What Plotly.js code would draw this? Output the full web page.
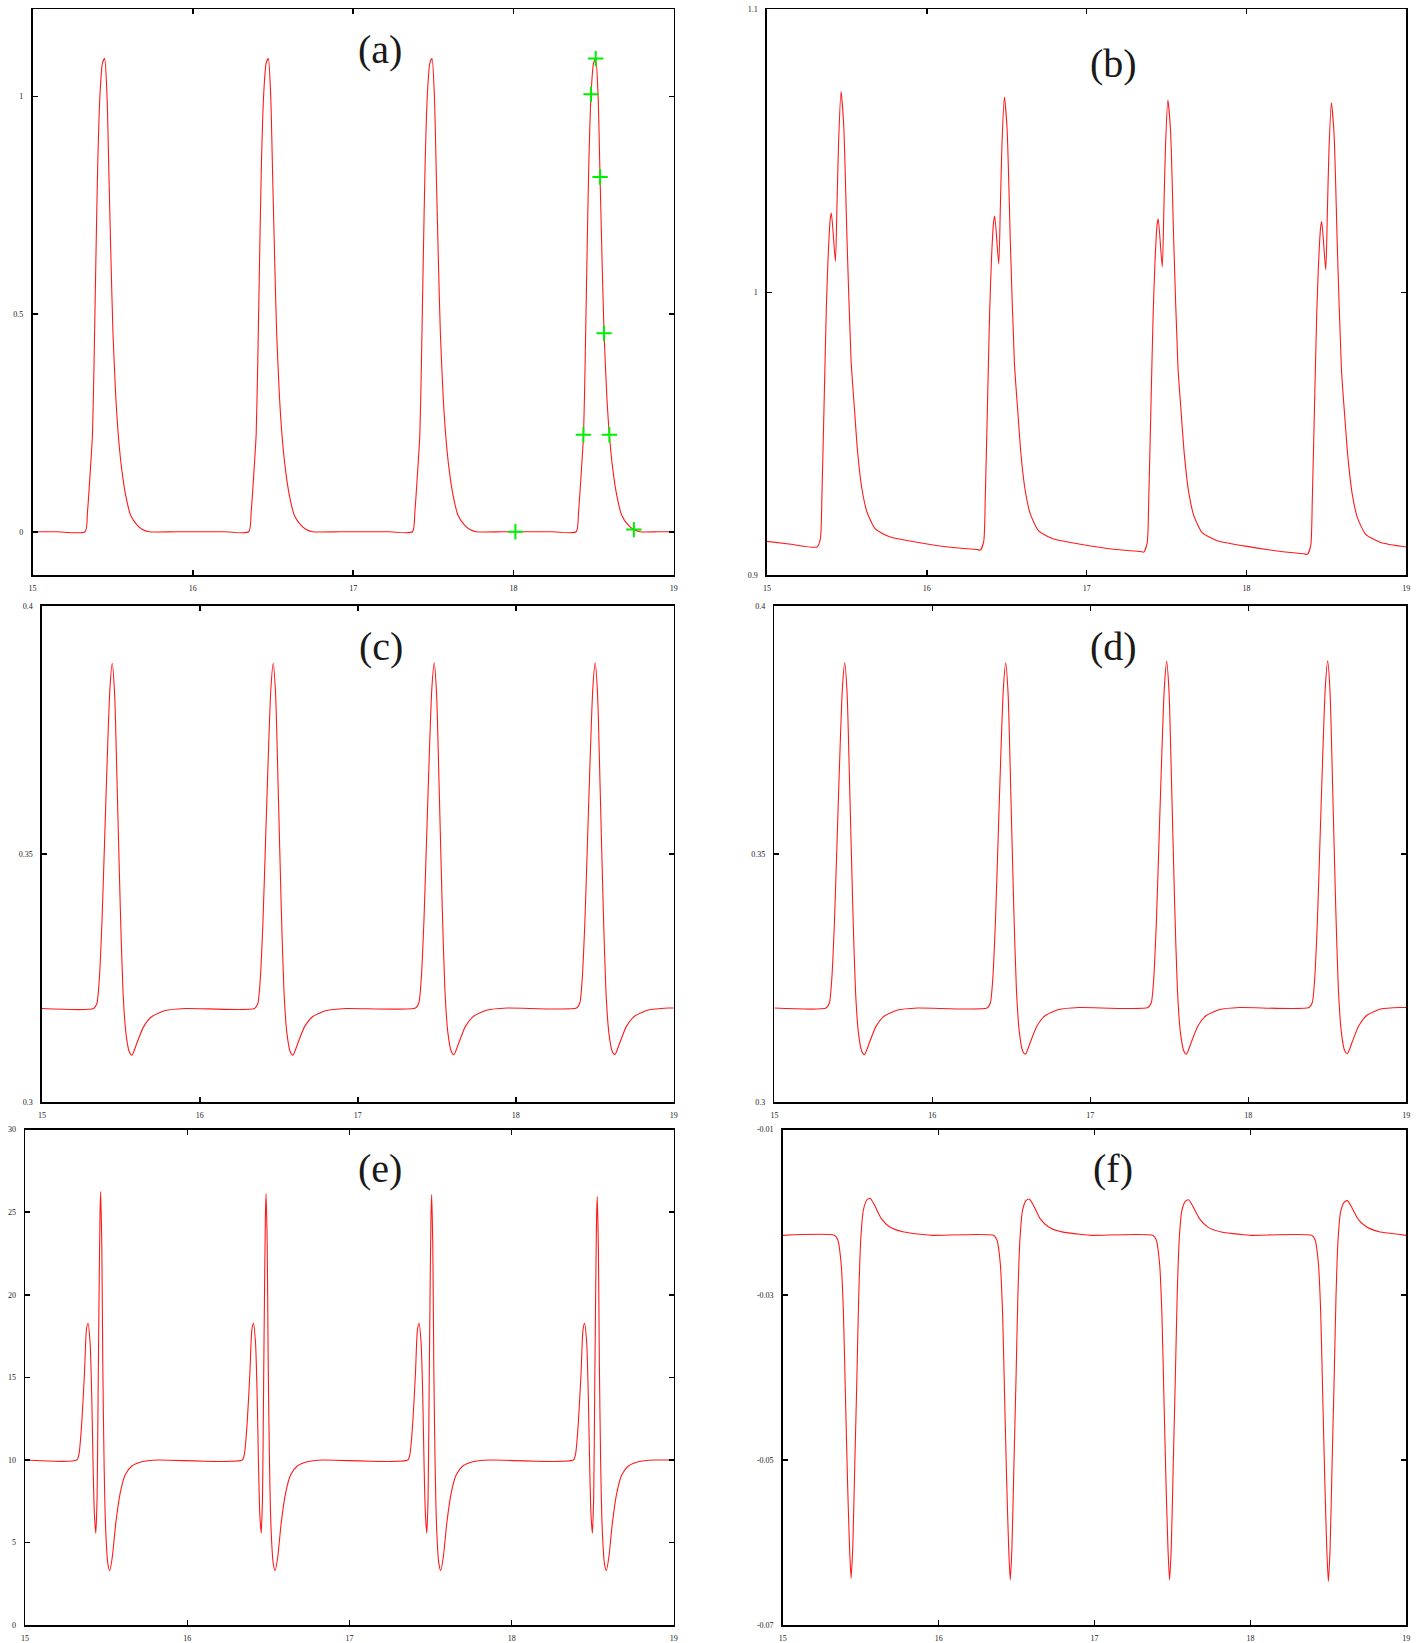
<!DOCTYPE html>
<html><head><meta charset="utf-8">
<script src="https://cdn.plot.ly/plotly-3.0.1.min.js"></script>
<style>html,body{margin:0;padding:0;background:#fff}#chart{width:1424px;height:1643px}</style>
</head><body><div id="chart"></div>
<script>
// ---------- tick labels ----------
const xTickVals = [15, 16, 17, 18, 19];
const xTickText = ['15', '16', '17', '18', '19'];
const yTickValsA = [0, 0.5, 1];          const yTickTextA = ['0', '0.5', '1'];
const yTickValsB = [0.9, 1, 1.1];        const yTickTextB = ['0.9', '1', '1.1'];
const yTickValsC = [0.3, 0.35, 0.4];     const yTickTextC = ['0.3', '0.35', '0.4'];
const yTickValsE = [0, 5, 10, 15, 20, 25, 30]; const yTickTextE = ['0', '5', '10', '15', '20', '25', '30'];
const yTickValsF = [-0.07, -0.05, -0.03, -0.01]; const yTickTextF = ['-0.07', '-0.05', '-0.03', '-0.01'];
const panelLabels = ['(a)', '(b)', '(c)', '(d)', '(e)', '(f)'];

// ---------- panel (a) ----------
const xA = [15, 15.15,
 15.328,15.343,15.364,15.374,15.384,15.395,15.407,15.421,15.436,15.450,15.465,15.477,15.490,15.502,15.519,15.535,15.556,15.581,15.612,15.653,15.686,15.726,15.90,16.20,
 16.349,16.364,16.385,16.395,16.405,16.416,16.428,16.442,16.457,16.471,16.486,16.498,16.511,16.523,16.540,16.556,16.577,16.602,16.633,16.674,16.707,16.747,16.92,17.22,
 17.370,17.385,17.406,17.416,17.426,17.437,17.449,17.463,17.478,17.492,17.507,17.519,17.532,17.544,17.561,17.577,17.598,17.623,17.654,17.695,17.728,17.768,17.94,18.24,
 18.391,18.406,18.427,18.437,18.447,18.458,18.470,18.484,18.499,18.513,18.528,18.540,18.553,18.565,18.582,18.598,18.619,18.644,18.675,18.716,18.749,18.789,18.90,
 19];
const yA = [0, 0,
 0,0.046,0.160,0.223,0.389,0.618,0.847,1.005,1.076,1.087,0.999,0.815,0.618,0.456,0.313,0.223,0.145,0.084,0.038,0.015,0.005,0,0,0,
 0,0.046,0.160,0.223,0.389,0.618,0.847,1.005,1.076,1.087,0.999,0.815,0.618,0.456,0.313,0.223,0.145,0.084,0.038,0.015,0.005,0,0,0,
 0,0.046,0.160,0.223,0.389,0.618,0.847,1.005,1.076,1.087,0.999,0.815,0.618,0.456,0.313,0.223,0.145,0.084,0.038,0.015,0.005,0,0,0,
 0,0.046,0.160,0.223,0.389,0.618,0.847,1.005,1.076,1.087,0.999,0.815,0.618,0.456,0.313,0.223,0.145,0.084,0.038,0.015,0.005,0,0,
 0];
const markX = [18.012, 18.436, 18.484, 18.513, 18.540, 18.565, 18.598, 18.751];
const markY = [0, 0.223, 1.005, 1.087, 0.815, 0.456, 0.223, 0.005];

// ---------- panel (b) ----------
const xB = [15.000,15.150,15.313,15.334,15.344,15.359,15.371,15.382,15.396,15.403,15.428,15.438,15.448,15.463,15.480,15.501,15.526,15.547,15.567,15.594,15.626,15.678,15.772,15.939,16.147,16.314,
 16.335,16.356,16.366,16.381,16.393,16.404,16.418,16.425,16.450,16.460,16.470,16.485,16.502,16.523,16.548,16.569,16.589,16.616,16.648,16.700,16.794,16.961,17.169,17.336,
 17.358,17.379,17.389,17.404,17.416,17.427,17.441,17.448,17.473,17.483,17.493,17.508,17.525,17.546,17.571,17.592,17.612,17.639,17.671,17.723,17.817,17.984,18.192,18.359,
 18.381,18.402,18.412,18.427,18.439,18.450,18.464,18.471,18.496,18.506,18.516,18.531,18.548,18.569,18.594,18.615,18.635,18.662,18.694,18.746,18.840,19.000];
const yB = [0.912,0.911,0.910,0.913,0.929,0.965,0.994,1.012,1.026,1.028,1.011,1.031,1.053,1.071,1.059,1.018,0.976,0.959,0.9435,0.9305,0.9223,0.9164,0.9135,0.9117,0.9099,0.9091,
 0.9089,0.912,0.928,0.964,0.993,1.011,1.025,1.027,1.010,1.030,1.052,1.069,1.058,1.017,0.975,0.958,0.9428,0.9298,0.9216,0.9157,0.9128,0.9110,0.9092,0.9084,
 0.9082,0.9115,0.928,0.964,0.992,1.010,1.024,1.026,1.009,1.029,1.051,1.068,1.057,1.016,0.974,0.957,0.9422,0.9292,0.9210,0.9151,0.9122,0.9104,0.9086,0.9076,
 0.9074,0.9105,0.927,0.963,0.991,1.009,1.023,1.025,1.008,1.028,1.050,1.067,1.056,1.015,0.973,0.956,0.9416,0.9286,0.9204,0.9145,0.9116,0.9100];

// ---------- panel (c) ----------
const xC = [15.000,15.327,15.348,15.363,15.380,15.397,15.414,15.430,15.445,15.460,15.477,15.496,15.513,15.532,15.553,15.570,15.601,15.643,15.696,15.781,15.907,
 16.346,16.367,16.382,16.399,16.416,16.433,16.449,16.464,16.479,16.496,16.515,16.532,16.551,16.572,16.589,16.620,16.662,16.715,16.800,16.926,
 17.365,17.386,17.401,17.418,17.435,17.452,17.468,17.483,17.498,17.515,17.534,17.551,17.570,17.591,17.608,17.639,17.681,17.734,17.819,17.945,
 18.384,18.405,18.420,18.437,18.454,18.471,18.487,18.502,18.517,18.534,18.553,18.570,18.589,18.610,18.627,18.658,18.700,18.753,18.838,18.964,19.000];
const yC = [0.3189,0.3189,0.3199,0.3246,0.3361,0.3528,0.3696,0.3830,0.3884,0.3824,0.3629,0.3394,0.3226,0.3139,0.3102,0.3095,0.3119,0.3152,0.3173,0.3185,0.3189,
 0.3189,0.3199,0.3246,0.3361,0.3528,0.3696,0.3830,0.3884,0.3824,0.3629,0.3394,0.3226,0.3139,0.3102,0.3095,0.3119,0.3152,0.3173,0.3185,0.3189,
 0.3190,0.3200,0.3247,0.3362,0.3529,0.3697,0.3831,0.3885,0.3825,0.3630,0.3395,0.3227,0.3140,0.3103,0.3096,0.3120,0.3153,0.3174,0.3186,0.3190,
 0.3190,0.3200,0.3247,0.3362,0.3529,0.3697,0.3831,0.3885,0.3825,0.3630,0.3395,0.3227,0.3140,0.3103,0.3096,0.3120,0.3153,0.3174,0.3186,0.3190,0.3190];

// ---------- panel (d) ----------
const xD = [15.000,15.327,15.348,15.363,15.380,15.397,15.414,15.430,15.445,15.460,15.477,15.496,15.513,15.532,15.553,15.570,15.601,15.643,15.696,15.781,15.907,
 16.346,16.367,16.382,16.399,16.416,16.433,16.449,16.464,16.479,16.496,16.515,16.532,16.551,16.572,16.589,16.620,16.662,16.715,16.800,16.926,
 17.365,17.386,17.401,17.418,17.435,17.452,17.468,17.483,17.498,17.515,17.534,17.551,17.570,17.591,17.608,17.639,17.681,17.734,17.819,17.945,
 18.384,18.405,18.420,18.437,18.454,18.471,18.487,18.502,18.517,18.534,18.553,18.570,18.589,18.610,18.627,18.658,18.700,18.753,18.838,18.964,19.000];
const yD = [0.3190,0.3190,0.3200,0.3247,0.3362,0.3529,0.3697,0.3831,0.3885,0.3825,0.3630,0.3395,0.3227,0.3140,0.3103,0.3096,0.3120,0.3153,0.3174,0.3186,0.3190,
 0.3190,0.3200,0.3247,0.3362,0.3529,0.3697,0.3831,0.3885,0.3825,0.3630,0.3395,0.3227,0.3140,0.3103,0.3097,0.3121,0.3154,0.3175,0.3187,0.3191,
 0.3191,0.3201,0.3248,0.3363,0.3530,0.3698,0.3833,0.3888,0.3827,0.3631,0.3396,0.3228,0.3141,0.3104,0.3097,0.3121,0.3154,0.3175,0.3187,0.3191,
 0.3191,0.3201,0.3248,0.3363,0.3530,0.3698,0.3834,0.3889,0.3828,0.3632,0.3396,0.3228,0.3141,0.3104,0.3098,0.3122,0.3155,0.3176,0.3188,0.3191,0.3191];

// ---------- panel (e) ----------
const xE = [15.000,15.319,15.333,15.349,15.366,15.378,15.388,15.401,15.411,15.419,15.427,15.436,15.444,15.450,15.456,15.462,15.466,15.473,15.479,15.487,15.497,15.510,15.522,15.538,15.559,15.586,15.617,15.658,15.719,15.822,
 16.339,16.353,16.369,16.386,16.398,16.408,16.421,16.431,16.439,16.447,16.456,16.464,16.470,16.476,16.482,16.486,16.493,16.499,16.507,16.517,16.530,16.542,16.558,16.579,16.606,16.637,16.678,16.739,16.842,
 17.360,17.374,17.390,17.407,17.419,17.429,17.442,17.452,17.460,17.468,17.477,17.485,17.491,17.497,17.503,17.507,17.514,17.520,17.528,17.538,17.551,17.563,17.579,17.600,17.627,17.658,17.699,17.760,17.863,
 18.381,18.395,18.411,18.428,18.440,18.450,18.463,18.473,18.481,18.489,18.498,18.506,18.512,18.518,18.524,18.528,18.535,18.541,18.549,18.559,18.572,18.584,18.600,18.621,18.648,18.679,18.720,18.781,18.884,19.000];
const yE = [10.0,10.0,10.41,12.2,15.25,17.87,18.28,17.07,13.84,9.81,6.78,5.57,7.78,13.84,19.89,24.94,26.25,22.92,15.86,9.81,5.77,3.75,3.31,4.15,6.17,7.99,9.1,9.64,9.9,10.0,
 10.0,10.41,12.2,15.25,17.87,18.28,17.07,13.84,9.81,6.78,5.57,7.78,13.84,19.89,24.9,26.13,22.9,15.86,9.81,5.77,3.75,3.31,4.15,6.17,7.99,9.1,9.64,9.9,10.0,
 10.0,10.41,12.2,15.25,17.87,18.28,17.07,13.84,9.81,6.78,5.57,7.78,13.84,19.89,24.85,26.07,22.9,15.86,9.81,5.77,3.75,3.31,4.15,6.17,7.99,9.1,9.64,9.9,10.0,
 10.0,10.41,12.2,15.25,17.87,18.28,17.07,13.84,9.81,6.78,5.57,7.78,13.84,19.89,24.8,25.95,22.8,15.86,9.81,5.77,3.75,3.31,4.15,6.17,7.99,9.1,9.64,9.9,10.0,10.0];

// ---------- panel (f) ----------
const xF = [15.000,15.331,15.353,15.374,15.389,15.402,15.415,15.428,15.438,15.449,15.462,15.475,15.487,15.500,15.517,15.539,15.560,15.588,15.631,15.684,15.770,15.898,15.962,
 16.352,16.374,16.395,16.410,16.423,16.436,16.449,16.459,16.470,16.483,16.496,16.508,16.521,16.538,16.560,16.581,16.609,16.652,16.705,16.791,16.919,16.983,
 17.374,17.396,17.417,17.432,17.445,17.458,17.471,17.481,17.492,17.505,17.518,17.530,17.543,17.560,17.582,17.603,17.631,17.674,17.727,17.813,17.941,18.005,
 18.393,18.415,18.436,18.451,18.464,18.477,18.490,18.500,18.511,18.524,18.537,18.549,18.562,18.579,18.601,18.622,18.650,18.693,18.746,18.832,18.960,19.000];
const yF = [-0.0228,-0.0228,-0.02336,-0.02618,-0.03223,-0.04233,-0.05241,-0.06048,-0.06431,-0.06048,-0.05039,-0.04031,-0.03022,-0.02336,-0.01973,-0.01852,-0.01831,-0.01913,-0.02074,-0.02175,-0.02236,-0.0227,-0.0228,
 -0.0228,-0.02336,-0.02618,-0.03223,-0.04233,-0.05241,-0.0606,-0.0645,-0.0606,-0.05039,-0.04031,-0.03022,-0.02336,-0.01978,-0.0186,-0.0184,-0.0192,-0.0208,-0.02178,-0.02238,-0.0227,-0.0228,
 -0.0228,-0.02336,-0.02618,-0.03223,-0.04233,-0.05241,-0.0607,-0.0645,-0.0607,-0.05039,-0.04031,-0.03022,-0.02336,-0.0198,-0.0187,-0.0185,-0.0193,-0.0208,-0.0218,-0.0224,-0.0227,-0.0228,
 -0.0228,-0.02336,-0.02618,-0.03223,-0.04233,-0.05241,-0.0608,-0.0647,-0.0608,-0.05039,-0.04031,-0.03022,-0.02336,-0.0199,-0.0188,-0.0186,-0.0194,-0.0209,-0.0218,-0.0224,-0.0227,-0.0228];

// ---------- layout geometry (pixels) ----------
const W = 1424, H = 1643;
const boxes = [
  [32.5, 673.8, 9.4, 575.3],
  [767.0, 1406.3, 9.4, 575.3],
  [41.9, 673.8, 605.7, 1102.4],
  [774.4, 1406.3, 605.7, 1102.4],
  [25.1, 673.8, 1129.6, 1625.3],
  [782.8, 1406.3, 1129.6, 1625.3]
];
const labelPos = [[380, 49], [1113, 63], [381, 646], [1113, 646], [380, 1168], [1113, 1168]];
const yRanges = [[-0.1, 1.2], [0.9, 1.1], [0.3, 0.4], [0.3, 0.4], [0, 30], [-0.07, -0.01]];
const yTickSets = [[yTickValsA, yTickTextA], [yTickValsB, yTickTextB], [yTickValsC, yTickTextC],
                   [yTickValsC, yTickTextC], [yTickValsE, yTickTextE], [yTickValsF, yTickTextF]];
const series = [[xA, yA], [xB, yB], [xC, yC], [xD, yD], [xE, yE], [xF, yF]];

const tickFont = {family: 'Liberation Serif, DejaVu Serif, serif', size: 8, color: '#222'};
function axisBase() {
  return {showline: true, mirror: 'ticks', linecolor: '#000', linewidth: 1.6,
          ticks: 'inside', ticklen: 5, tickwidth: 1.5, tickcolor: '#000',
          showgrid: false, zeroline: false, tickmode: 'array', tickfont: tickFont,
          ticklabelstandoff: 4, fixedrange: true};
}

const layout = {width: W, height: H, margin: {l: 0, r: 0, t: 0, b: 0},
  paper_bgcolor: '#fff', plot_bgcolor: '#fff', showlegend: false, annotations: []};
const data = [];
for (let i = 0; i < 6; i++) {
  const n = i === 0 ? '' : String(i + 1);
  const b = boxes[i];
  layout['xaxis' + n] = Object.assign(axisBase(), {
    domain: [b[0] / W, b[1] / W], range: [15, 19], anchor: 'y' + n,
    tickvals: xTickVals, ticktext: xTickText});
  layout['yaxis' + n] = Object.assign(axisBase(), {
    domain: [1 - b[3] / H, 1 - b[2] / H], range: yRanges[i], anchor: 'x' + n,
    tickvals: yTickSets[i][0], ticktext: yTickSets[i][1], ticklabelstandoff: 6});
  data.push({x: series[i][0], y: series[i][1], xaxis: 'x' + n, yaxis: 'y' + n,
    type: 'scatter', mode: 'lines', line: {color: '#ff1a1a', width: 1.1, shape: 'spline', smoothing: 0.6},
    hoverinfo: 'skip', cliponaxis: true});
  layout.annotations.push({text: panelLabels[i], xref: 'paper', yref: 'paper',
    x: labelPos[i][0] / W, y: 1 - labelPos[i][1] / H, xanchor: 'center', yanchor: 'middle',
    showarrow: false, font: {family: 'Liberation Serif, DejaVu Serif, serif', size: 40, color: '#1a1a1a'}});
}
data.push({x: markX, y: markY, xaxis: 'x', yaxis: 'y', type: 'scatter', mode: 'markers',
  marker: {symbol: 'cross-thin', size: 11, color: '#00ee00', line: {color: '#00ee00', width: 2}},
  hoverinfo: 'skip'});

Plotly.newPlot('chart', data, layout, {staticPlot: true, displayModeBar: false});
</script>
</body></html>
